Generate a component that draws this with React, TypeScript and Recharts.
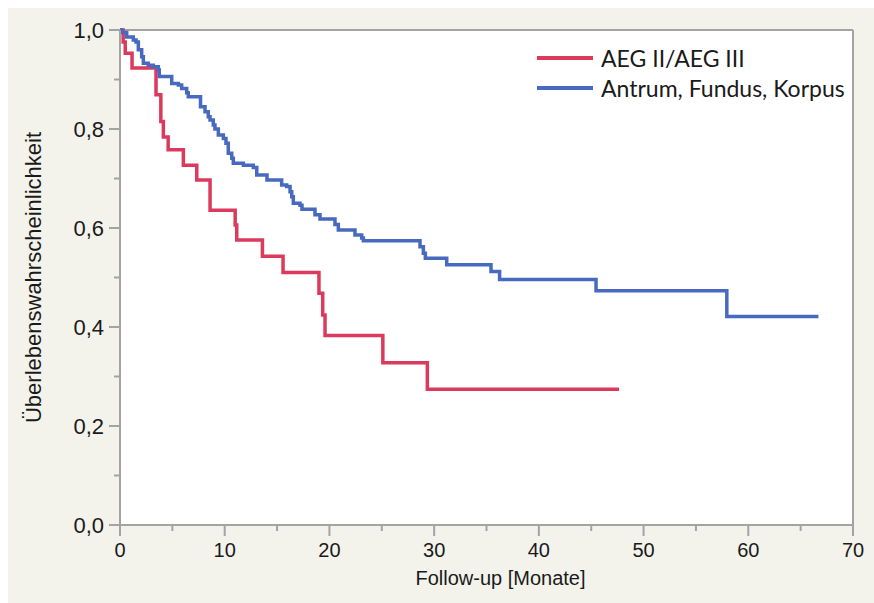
import { LineChart, Line, XAxis, YAxis, CartesianGrid, ReferenceLine, Legend } from 'recharts';

// Kaplan-Meier steps: t = Monate, s = Überlebenswahrscheinlichkeit
const aegTimes = [0, 0.3, 0.5, 1.15, 3.44, 3.9, 4.14, 4.6, 6.05, 7.33, 8.6, 11.0, 11.15, 13.6, 15.57, 19.0, 19.36, 19.58, 25.1, 29.35, 47.66];
const aegValues = [1.0, 0.976, 0.953, 0.923, 0.869, 0.815, 0.784, 0.758, 0.727, 0.697, 0.636, 0.606, 0.576, 0.543, 0.51, 0.468, 0.424, 0.383, 0.328, 0.274, 0.274];

const korpusTimes = [0, 0.16, 0.64, 1.27, 1.53, 1.75, 2.07, 2.23, 2.7, 3.18, 3.66, 3.75, 4.94, 5.57, 5.89, 6.37, 6.52, 7.69, 8.12, 8.43, 8.6, 8.91, 9.07, 9.39, 9.87, 10.12, 10.34, 10.67, 10.82, 11.78, 12.73, 13.06, 14.04, 15.44, 15.92, 16.24, 16.4, 16.55, 17.19, 17.38, 18.62, 19.1, 20.53, 20.85, 22.44, 23.08, 23.24, 28.65, 28.97, 29.16, 31.2, 35.43, 36.25, 45.46, 57.95, 66.7];
const korpusValues = [1.0, 0.995, 0.986, 0.98, 0.976, 0.96, 0.946, 0.933, 0.929, 0.926, 0.919, 0.906, 0.892, 0.889, 0.882, 0.873, 0.865, 0.845, 0.835, 0.825, 0.818, 0.808, 0.8, 0.788, 0.781, 0.771, 0.751, 0.741, 0.731, 0.727, 0.722, 0.707, 0.697, 0.687, 0.684, 0.673, 0.663, 0.65, 0.646, 0.638, 0.627, 0.618, 0.607, 0.596, 0.586, 0.58, 0.574, 0.562, 0.549, 0.539, 0.526, 0.512, 0.496, 0.473, 0.421, 0.421];

const xTicks = [0, 5, 10, 15, 20, 25, 30, 35, 40, 45, 50, 55, 60, 65, 70];
const yTicks = [0, 0.1, 0.2, 0.3, 0.4, 0.5, 0.6, 0.7, 0.8, 0.9, 1.0];

const seriesNames = ['AEG II/AEG III', 'Antrum, Fundus, Korpus'];
const colors = ['#db3a5d', '#4769bf'];

const aegData = aegTimes.map((t, i) => ({ t, s: aegValues[i] }));
const korpusData = korpusTimes.map((t, i) => ({ t, s: korpusValues[i] }));

const axisGray = '#a3a3a3';
const textColor = '#1a1a1a';
const tickFont = '"Liberation Sans", Arial, sans-serif';

function XTick(props: any) {
  const { x, y, payload } = props;
  const major = payload.value % 10 === 0;
  return (
    <g>
      <line x1={x} x2={x} y1={y} y2={y + (major ? 11 : 6)} stroke={axisGray} strokeWidth={2} />
      {major && (
        <text x={x} y={y + 18} dy="0.71em" textAnchor="middle" fontSize={20} fontFamily={tickFont} fill={textColor}>
          {payload.value}
        </text>
      )}
    </g>
  );
}

function YTick(props: any) {
  const { x, y, payload } = props;
  const tenths = Math.round(payload.value * 10);
  const major = tenths % 2 === 0;
  return (
    <g>
      <line x1={x} x2={x - (major ? 11 : 6)} y1={y} y2={y} stroke={axisGray} strokeWidth={2} />
      {major && (
        <text x={x - 16} y={y} dy="0.355em" textAnchor="end" fontSize={22} fontFamily={tickFont} fill={textColor}>
          {(tenths / 10).toFixed(1).replace('.', ',')}
        </text>
      )}
    </g>
  );
}

function KMLegend() {
  return (
    <div style={{ fontFamily: 'Lato, "Open Sans", sans-serif', fontSize: 23, color: textColor }}>
      {seriesNames.map((n, i) => (
        <div key={n} style={{ display: 'flex', alignItems: 'center', height: 30 }}>
          <span style={{ display: 'inline-block', width: 56, height: 4, background: colors[i], marginRight: 8 }} />
          <span>{n}</span>
        </div>
      ))}
    </div>
  );
}

export default function App() {
  return (
    <div style={{ position: 'absolute', left: 8, top: 8, width: 866, height: 595, background: '#f3f3ec' }}>
      <LineChart width={866} height={595} margin={{ top: 22, right: 21, left: 0, bottom: 0 }}>
        <CartesianGrid horizontal={false} vertical={false} fill="#ffffff" />
        <XAxis
          type="number"
          dataKey="t"
          domain={[0, 70]}
          ticks={xTicks}
          interval={0}
          height={78}
          tickSize={0}
          tickMargin={0}
          tickLine={false}
          tick={<XTick />}
          axisLine={{ stroke: axisGray, strokeWidth: 2 }}
          label={{
            content: (p: any) => (
              <text
                x={p.viewBox.x + p.viewBox.width / 2 + 14}
                y={p.viewBox.y + 60}
                textAnchor="middle"
                fontSize={20}
                fontFamily={tickFont}
                fill={textColor}
              >
                Follow-up [Monate]
              </text>
            ),
          }}
        />
        <YAxis
          type="number"
          dataKey="s"
          domain={[0, 1]}
          ticks={yTicks}
          interval={0}
          width={112}
          tickSize={0}
          tickMargin={0}
          tickLine={false}
          tick={<YTick />}
          axisLine={{ stroke: axisGray, strokeWidth: 2 }}
          label={{
            content: (p: any) => {
              const cy = p.viewBox.y + p.viewBox.height / 2;
              return (
                <text
                  x={25}
                  y={cy}
                  transform={`rotate(-90 25 ${cy})`}
                  textAnchor="middle"
                  dominantBaseline="central"
                  fontSize={22}
                  fontFamily={tickFont}
                  fill={textColor}
                >
                  Überlebenswahrscheinlichkeit
                </text>
              );
            },
          }}
        />
        <ReferenceLine y={1} stroke={axisGray} strokeWidth={2} />
        <ReferenceLine x={70} stroke={axisGray} strokeWidth={2} />
        <Legend
          content={<KMLegend />}
          layout="horizontal"
          verticalAlign="middle"
          align="center"
          wrapperStyle={{ position: 'absolute', left: 529, top: 35, width: 330 }}
        />
        <Line
          data={aegData}
          dataKey="s"
          name={seriesNames[0]}
          type="stepAfter"
          stroke={colors[0]}
          strokeWidth={3.5}
          dot={false}
          isAnimationActive={false}
        />
        <Line
          data={korpusData}
          dataKey="s"
          name={seriesNames[1]}
          type="stepAfter"
          stroke={colors[1]}
          strokeWidth={3.5}
          dot={false}
          isAnimationActive={false}
        />
      </LineChart>
    </div>
  );
}
